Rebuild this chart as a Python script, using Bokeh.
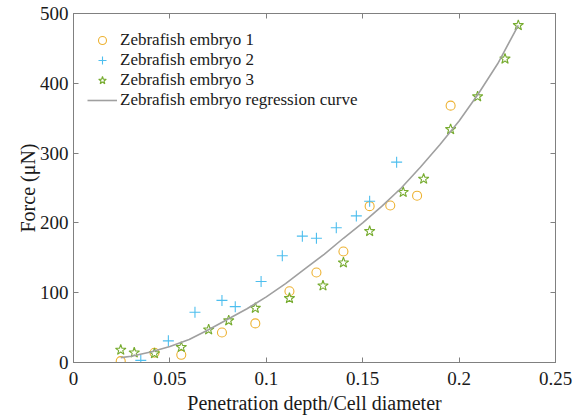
from bokeh.plotting import figure
from bokeh.models import LinearAxis, FixedTicker, Range1d, Legend
from bokeh.embed import file_html
from bokeh.resources import INLINE

# --- data ---
e1_x = [0.0245, 0.042, 0.0559, 0.077, 0.0943, 0.112, 0.126, 0.140, 0.1536, 0.1643, 0.1782, 0.1956]
e1_y = [2, 14, 11, 43, 56, 102, 129, 159, 224, 225, 239, 368]

e2_x = [0.0349, 0.0492, 0.063, 0.077, 0.0839, 0.0973, 0.1083, 0.1187, 0.126, 0.1363, 0.1467, 0.1536, 0.1676]
e2_y = [3, 31, 72, 89, 80, 116, 153, 181, 178, 193, 210, 231, 287]

e3_x = [0.0245, 0.0315, 0.042, 0.0559, 0.0701, 0.0805, 0.0943, 0.112, 0.1294, 0.140, 0.1536,
        0.171, 0.1816, 0.1956, 0.2096, 0.2238, 0.2307]
e3_y = [18, 14, 13, 22, 47, 60, 78, 92, 110, 143, 188, 244, 263, 334, 381, 435, 483]

curve_x = [0.0245, 0.03, 0.04, 0.05, 0.06, 0.07, 0.08, 0.09, 0.10, 0.11, 0.12, 0.13, 0.14,
           0.15, 0.16, 0.17, 0.18, 0.19, 0.20, 0.21, 0.22, 0.2307]
curve_y = [7, 9, 15, 23, 33, 47, 62, 77, 94, 113, 134, 155, 178, 200, 224, 250, 280, 312, 346, 385, 428, 483]

x_ticks = [0, 0.05, 0.1, 0.15, 0.2, 0.25]
x_tick_labels = ["0", "0.05", "0.1", "0.15", "0.2", "0.25"]
y_ticks = [0, 100, 200, 300, 400, 500]

series_labels = ["Zebrafish embryo 1", "Zebrafish embryo 2", "Zebrafish embryo 3",
                 "Zebrafish embryo regression curve"]

FONT = "Liberation Serif"
AXIS_COL = "#808080"
TEXT_COL = "#1a1a1a"

p = figure(frame_width=482, frame_height=349, output_backend="svg", toolbar_location=None,
           x_range=Range1d(0, 0.25), y_range=Range1d(0, 500),
           min_border_left=73, min_border_right=22, min_border_top=13, min_border_bottom=50,
           background_fill_color="white", border_fill_color="white")
p.grid.visible = False
p.outline_line_color = AXIS_COL

r1 = p.scatter(e1_x, e1_y, marker="circle", size=9, fill_color=None,
               line_color="#EDB232", line_width=1.1)
r2 = p.scatter(e2_x, e2_y, marker="cross", size=11, line_color="#4DBEEE", line_width=1.1)
r3 = p.scatter(e3_x, e3_y, marker="star", size=11, fill_color=None,
               line_color="#77AC30", line_width=1.1)
r4 = p.line(curve_x, curve_y, line_color="#A0A0A0", line_width=1.6)

def style_axis(ax, labels=True):
    ax.axis_line_color = AXIS_COL
    ax.major_tick_line_color = AXIS_COL
    ax.major_tick_in = 5
    ax.major_tick_out = 0
    ax.minor_tick_line_color = None
    ax.major_label_text_font = FONT
    ax.major_label_text_font_size = "19px"
    ax.major_label_text_font_style = "normal"
    ax.major_label_text_color = TEXT_COL if labels else None
    ax.axis_label_text_font = FONT
    ax.axis_label_text_font_size = "20px"
    ax.axis_label_text_font_style = "normal"
    ax.axis_label_text_color = TEXT_COL

xa = p.xaxis[0]
xa.ticker = FixedTicker(ticks=x_ticks)
xa.major_label_overrides = {t: l for t, l in zip(x_ticks, x_tick_labels)}
xa.axis_label = "Penetration depth/Cell diameter"
xa.major_label_standoff = 9
xa.axis_label_standoff = 4
style_axis(xa)

ya = p.yaxis[0]
ya.ticker = FixedTicker(ticks=y_ticks)
ya.axis_label = "Force (μN)"
ya.major_label_standoff = 5
ya.axis_label_standoff = -2
style_axis(ya)

top = LinearAxis(ticker=FixedTicker(ticks=x_ticks))
style_axis(top, labels=False)
top.major_label_text_font_size = "0px"
p.add_layout(top, "above")

right = LinearAxis(ticker=FixedTicker(ticks=y_ticks))
style_axis(right, labels=False)
right.major_label_text_font_size = "0px"
p.add_layout(right, "right")

legend = Legend(items=[(series_labels[0], [r1]), (series_labels[1], [r2]),
                       (series_labels[2], [r3]), (series_labels[3], [r4])],
                location=(14, 252), orientation="vertical")
legend.border_line_color = None
legend.background_fill_alpha = 0
legend.label_text_font = FONT
legend.label_text_font_style = "normal"
legend.label_text_font_size = "17px"
legend.label_text_color = TEXT_COL
legend.glyph_width = 30
legend.glyph_height = 20
legend.label_height = 20
legend.spacing = 0
legend.padding = 5
legend.margin = 0
legend.label_standoff = 3
p.add_layout(legend, "center")

open("out.html", "w").write(file_html(p, INLINE))
